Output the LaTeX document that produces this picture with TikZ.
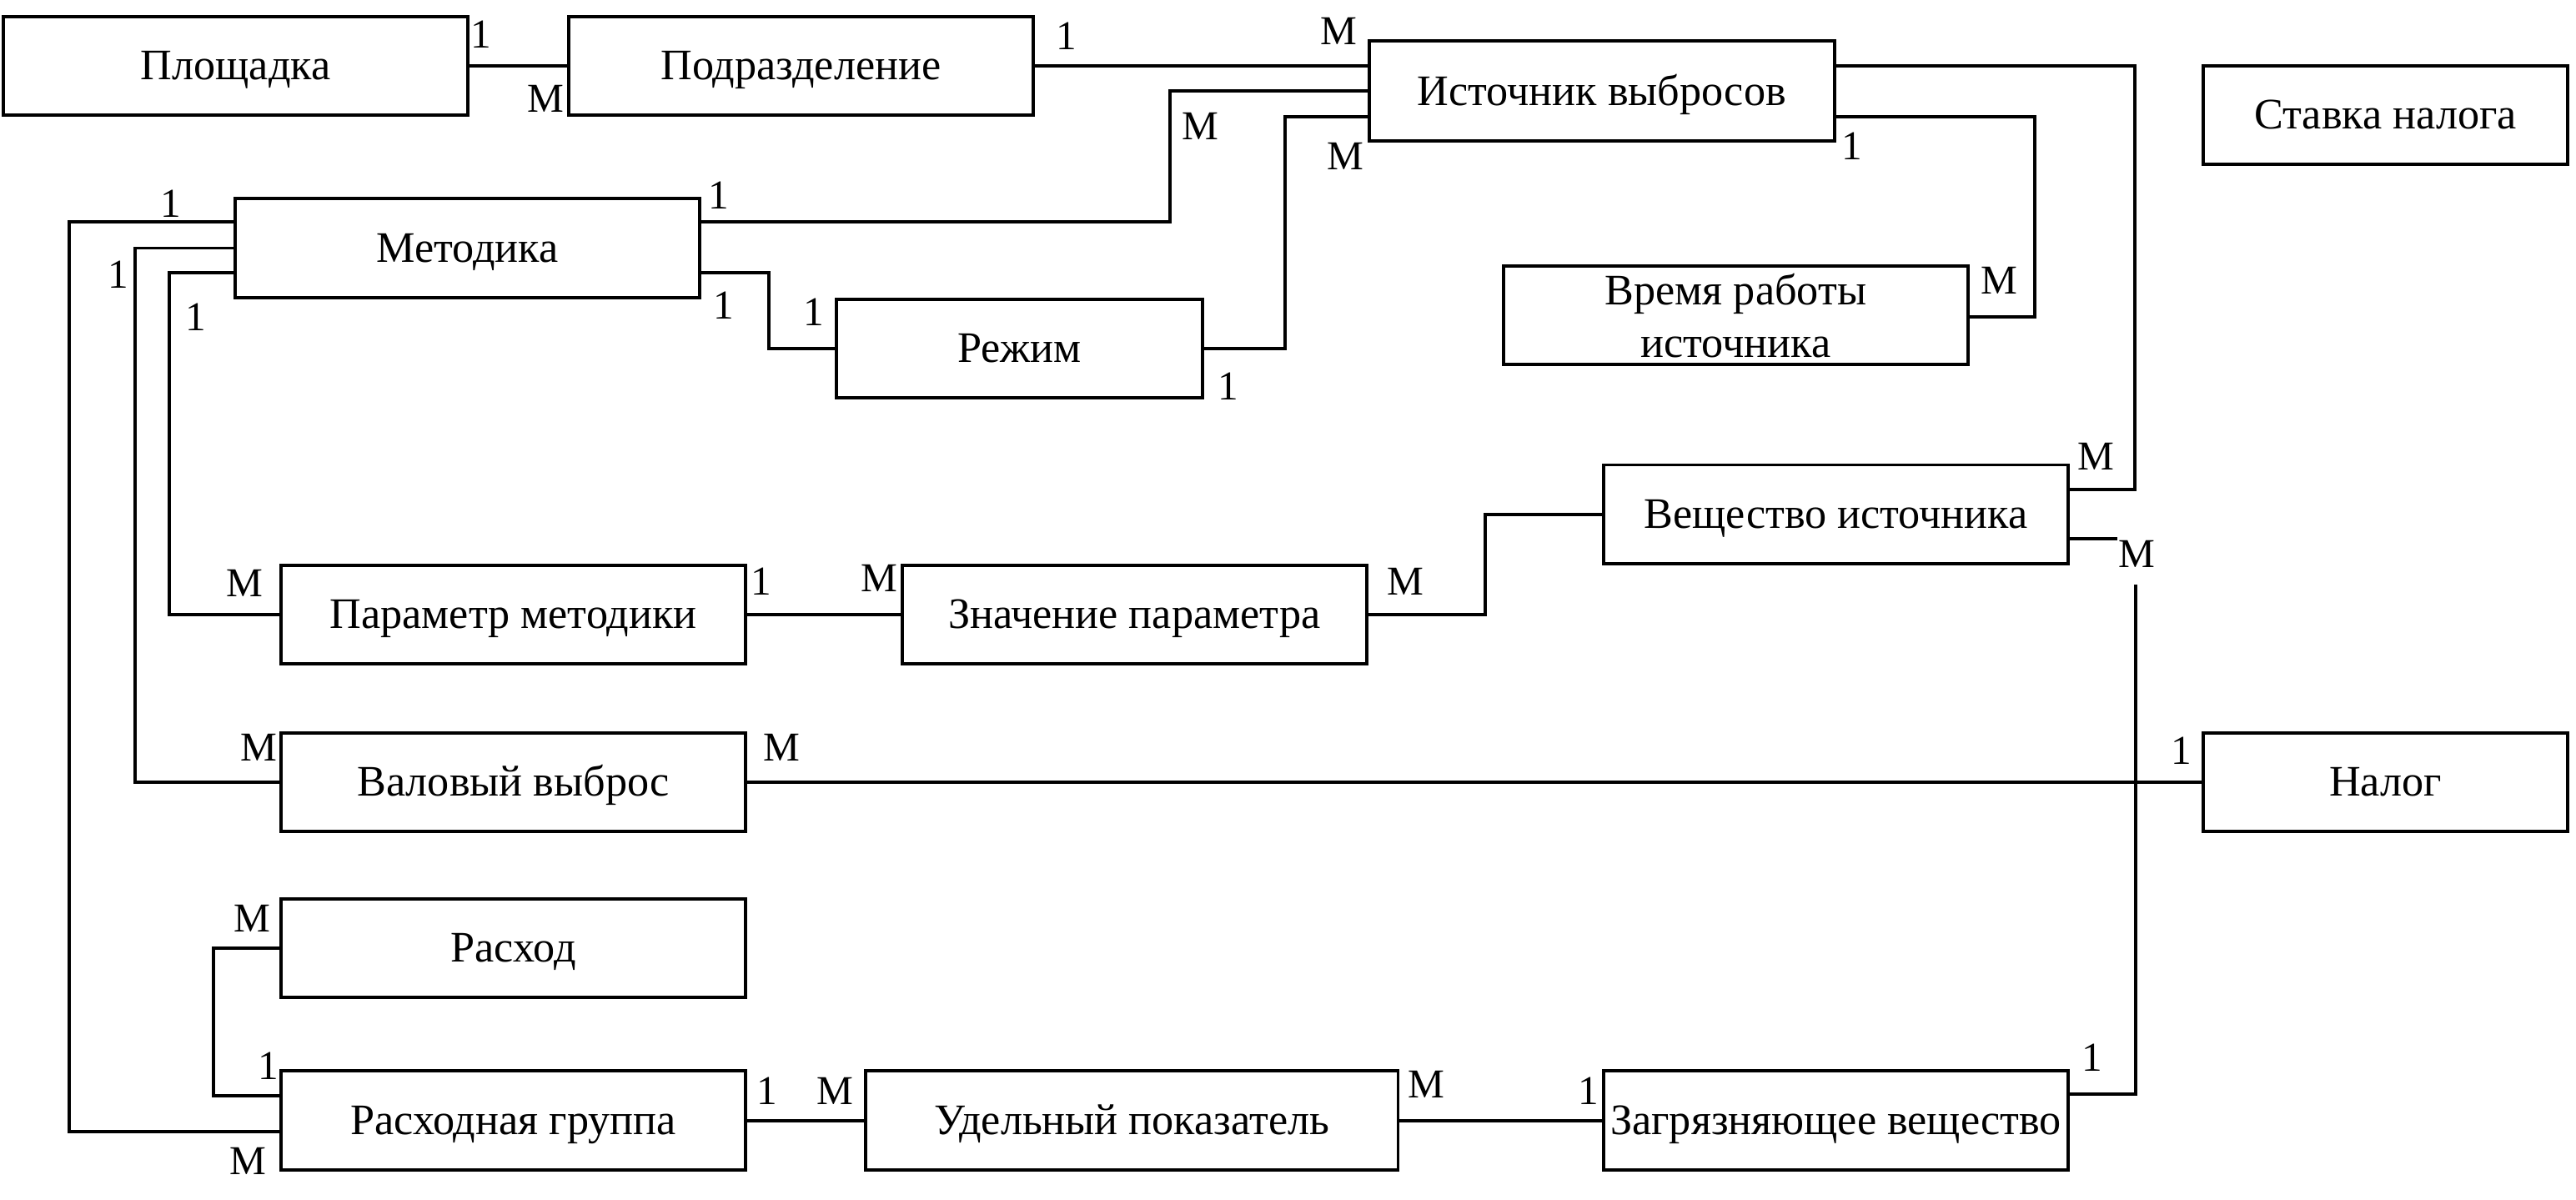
\documentclass[tikz,border=0pt]{standalone}
\usepackage{fontspec}
\setmainfont{Liberation Serif}
\usetikzlibrary{positioning}

\begin{document}
\begin{tikzpicture}[
  x=1pt, y=-1pt,
  font=\fontsize{25}{32}\selectfont,
  ent/.style={draw, line width=2pt, align=center, inner sep=2pt, outer sep=0pt,
              minimum width=283pt, minimum height=60pt,
              font=\fontsize{26.5}{32}\selectfont,
              text height=23.5pt, text depth=6.5pt},
  link/.style={line width=2pt},
  card/.style={inner sep=0pt},
]
\useasboundingbox (0,0) rectangle (1568,730);

% Entities
\node[ent] (plosh) at (143.5,40) {Площадка};
\node[ent, right=61pt of plosh] (podr) {Подразделение};
\node[ent, minimum height=61pt] (ist) at (975,55.5) {Источник выбросов};
\node[ent, minimum width=222pt] (stavka) at (1452,70) {Ставка налога};
\node[ent] (metod) at (284.5,151) {Методика};
\node[ent, minimum width=223pt] (rezhim) at (620.5,212) {Режим};
\node[ent, text height={}, text depth={}] (vremya) at (1056.5,192) {Время работы\\источника};
\node[ent] (veshist) at (1117.5,313) {Вещество источника};
\node[ent] (parmet) at (312.5,374) {Параметр методики};
\node[ent, right=95pt of parmet] (znach) {Значение параметра};
\node[ent] (valov) at (312.5,476) {Валовый выброс};
\node[ent, minimum width=222pt] (nalog) at (1452,476) {Налог};
\node[ent] (rashod) at (312.5,577) {Расход};
\node[ent] (rgrup) at (312.5,682) {Расходная группа};
\node[ent, minimum width=324pt, right=73pt of rgrup] (udel) {Удельный показатель};
\node[ent] (zagr) at (1117.5,682) {Загрязняющее вещество};

% Links
\draw[link] (plosh) -- (podr);
\draw[link] (podr.east) -- (podr.east -| ist.west);
\draw[link] ([yshift=16pt]metod.east) -- ++(286,0) |- (ist.west);
\draw[link] (rezhim.east) -- ++(50,0) |- ([yshift=-15.5pt]ist.west);
\draw[link] ([yshift=-15pt]metod.east) -- ++(42,0) |- (rezhim.west);
\draw[link] ([yshift=15.5pt]ist.east) -- ++(183,0) |- ([yshift=15pt]veshist.east);
\draw[link] ([yshift=-15.5pt]ist.east) -- ++(122,0) |- ([yshift=-1pt]vremya.east);
\draw[link] ([yshift=-15pt]veshist.east) -- ++(30,0);
\draw[link] ([yshift=16pt]zagr.east) -- ++(41,0) -- ++(0,-310);
\draw[link] (znach.east) -- ++(72,0) |- (veshist.west);
\draw[link] (parmet) -- (znach);
\draw[link] ([yshift=-15pt]metod.west) -- ++(-40,0) |- (parmet.west);
\draw[link] (metod.west) -- ++(-61,0) |- (valov.west);
\draw[link] ([yshift=16pt]metod.west) -- ++(-101,0) |- ([yshift=-7pt]rgrup.west);
\draw[link] (valov) -- (nalog);
\draw[link] (rashod.west) -- ++(-41,0) |- ([yshift=15pt]rgrup.west);
\draw[link] (rgrup) -- (udel);
\draw[link] (udel) -- (zagr);

% Cardinalities
\node[card] (c1) at (293,21) {1};
\node[card] (c2) at (332,60) {М};
\node[card] (c3) at (649,22) {1};
\node[card] (c4) at (815,19) {М};
\node[card] (c5) at (437.5,119) {1};
\node[card] (c6) at (730.5,77) {М};
\node[card] (c7) at (747.5,235) {1};
\node[card] (c8) at (819,95) {М};
\node[card] (c9) at (440.5,186) {1};
\node[card] (c10) at (495.5,190) {1};
\node[card] (c11) at (1276,278) {М};
\node[card] (c12) at (1127.5,89) {1};
\node[card] (c13) at (1217,171) {М};
\node[card] (c14) at (1300.5,337) {М};
\node[card] (c15) at (1273.5,644) {1};
\node[card] (c16) at (855.5,354) {М};
\node[card] (c17) at (463.5,354) {1};
\node[card] (c18) at (535,352) {М};
\node[card] (c19) at (119,193) {1};
\node[card] (c20) at (149,355) {М};
\node[card] (c21) at (72,167) {1};
\node[card] (c22) at (157.5,455) {М};
\node[card] (c23) at (104,124) {1};
\node[card] (c24) at (151,707) {М};
\node[card] (c25) at (476,455) {М};
\node[card] (c26) at (1328,457) {1};
\node[card] (c27) at (153.5,559) {М};
\node[card] (c28) at (163.5,649) {1};
\node[card] (c29) at (467,664) {1};
\node[card] (c30) at (508.5,664) {М};
\node[card] (c31) at (868,660) {М};
\node[card] (c32) at (967,664) {1};
\end{tikzpicture}
\end{document}
